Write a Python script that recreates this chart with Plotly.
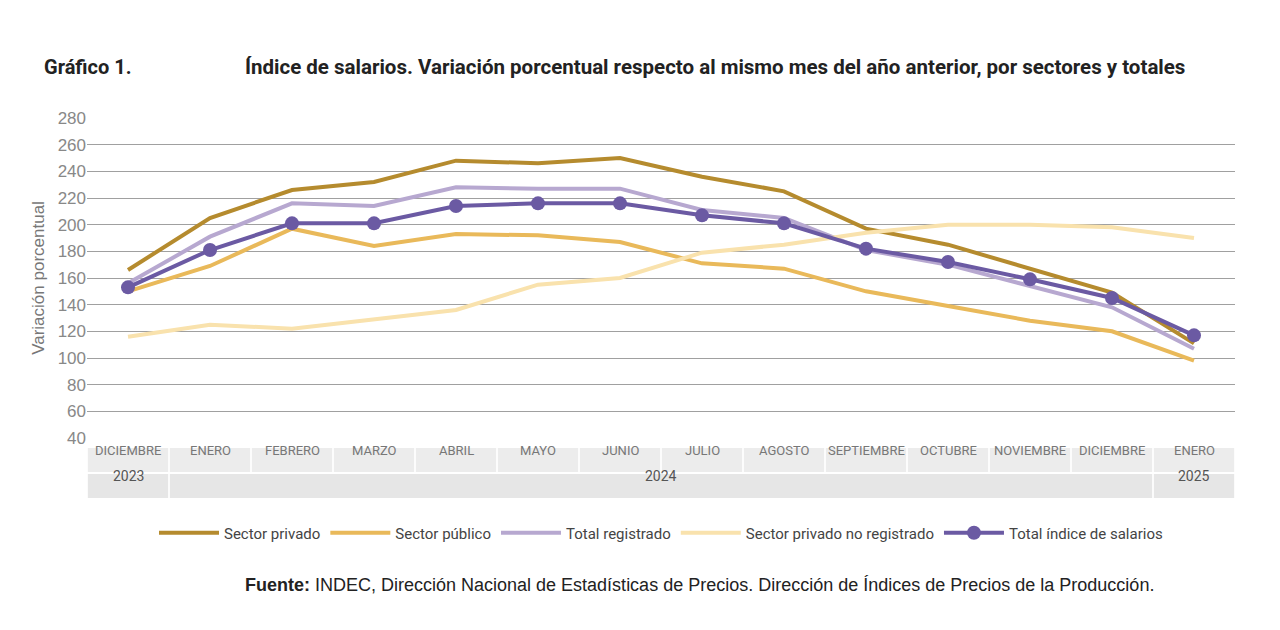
import plotly.graph_objects as go

months = ["DICIEMBRE","ENERO","FEBRERO","MARZO","ABRIL","MAYO","JUNIO","JULIO","AGOSTO","SEPTIEMBRE","OCTUBRE","NOVIEMBRE","DICIEMBRE","ENERO"]
years = [("2023", 0, 0), ("2024", 1, 12), ("2025", 13, 13)]
privado = [166,205,226,232,248,246,250,236,225,197,185,167,149,111]
publico = [150,169,197,184,193,192,187,171,167,150,139,128,120,98]
registrado = [156,191,216,214,228,227,227,211,205,181,170,154,138,107]
no_registrado = [116,125,122,129,136,155,160,179,185,194,200,200,198,190]
total = [153,181,201,201,214,216,216,207,201,182,172,159,145,117]

OFF = 8
L, R, T, B = 87 - OFF, 45 + OFF, 118 - OFF, 192 + OFF
pw, ph = 1280 - L - R, 630 - T - B
def px(xp): return (xp - OFF - L) / pw
def py(yp): return (630 - B - (yp - OFF)) / ph

x = list(range(len(months)))
fig = go.Figure()
series = [("Sector privado", privado, "#b58b2e", False),
          ("Sector público", publico, "#e9b95a", False),
          ("Total registrado", registrado, "#b7a8d0", False),
          ("Sector privado no registrado", no_registrado, "#f9e2ad", False),
          ("Total índice de salarios", total, "#6b5aa3", True)]
for name, vals, col, mk in series:
    fig.add_trace(go.Scatter(x=x, y=vals, name=name, mode="lines+markers" if mk else "lines",
                             line=dict(color=col, width=4),
                             marker=dict(size=14, color=col) if mk else None))

shapes = []
annos = []
for i, m in enumerate(months):
    shapes.append(dict(type="rect", xref="x", yref="paper", x0=i-0.49, x1=i+0.49, y0=-34/ph, y1=-10/ph,
                       fillcolor="#ececec", line=dict(width=0), layer="below"))
    annos.append(dict(x=i, y=-22/ph, xref="x", yref="paper", text=m, showarrow=False,
                      font=dict(size=13, color="#777", family="Liberation Sans Narrow, Roboto")))
for label, a, b in years:
    shapes.append(dict(type="rect", xref="x", yref="paper", x0=a-0.49, x1=b+0.49, y0=-60/ph, y1=-36/ph,
                       fillcolor="#e6e6e6", line=dict(width=0), layer="below"))
    annos.append(dict(x=(a+b)/2, y=-48/ph, xref="x", yref="paper", text=label, showarrow=False,
                      font=dict(size=14, color="#555", family="Liberation Sans Narrow, Roboto")))

annos.append(dict(text="<b>Gráfico 1.</b>", x=px(42), y=py(67), xref="paper", yref="paper",
                  xanchor="left", yanchor="middle", showarrow=False,
                  font=dict(size=20, color="#222", family="Liberation Sans Narrow, Roboto")))
annos.append(dict(text="<b>Índice de salarios. Variación porcentual respecto al mismo mes del año anterior, por sectores y totales</b>",
                  x=px(243), y=py(67), xref="paper", yref="paper", xanchor="left", yanchor="middle",
                  showarrow=False, font=dict(size=20.5, color="#222", family="Liberation Sans Narrow, Roboto")))
annos.append(dict(text="<b>Fuente:</b> INDEC, Dirección Nacional de Estadísticas de Precios. Dirección de Índices de Precios de la Producción.",
                  x=px(243), y=py(585), xref="paper", yref="paper", xanchor="left", yanchor="middle",
                  showarrow=False, font=dict(size=18, color="#222", family="Liberation Sans, Arial")))

fig.update_layout(
    width=1280, height=630, plot_bgcolor="white", paper_bgcolor="white",
    margin=dict(l=L, r=R, t=T, b=B),
    font=dict(family="Liberation Sans Narrow, Roboto", color="#333"),
    xaxis=dict(range=[-0.5, 13.5], showticklabels=False, showgrid=False, zeroline=False),
    yaxis=dict(range=[40, 280], dtick=20, tick0=40, gridcolor="#a0a0a0", gridwidth=1.3,
               zeroline=False, tickfont=dict(size=17, color="#888", family="Liberation Sans, Arial"),
               title=dict(text="Variación porcentual", font=dict(size=17, color="#777", family="Liberation Sans, Arial"), standoff=8)),
    shapes=shapes, annotations=annos,
    legend=dict(orientation="h", x=0.5, xanchor="center", y=py(533), yanchor="middle",
                font=dict(size=15, color="#444"), itemwidth=60, tracegroupgap=0),
)
fig.write_html("out.html")
